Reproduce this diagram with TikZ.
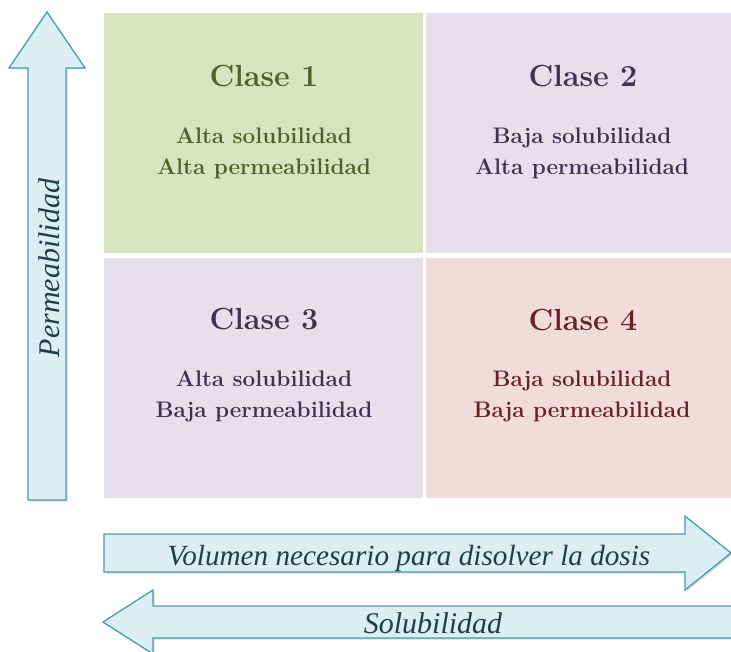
\documentclass[tikz,border=0pt]{standalone}
\usepackage{fontspec}
\newfontfamily\bandfont{Liberation Serif}
\usetikzlibrary{shadows}
\definecolor{c1fill}{HTML}{D7E4BD}
\definecolor{c2fill}{HTML}{E5E0EC}
\definecolor{c4fill}{HTML}{F2DCDB}
\definecolor{c1ink}{HTML}{4F6228}
\definecolor{c2ink}{HTML}{3F3151}
\definecolor{c4ink}{HTML}{632423}
\definecolor{bandfill}{HTML}{DAEEF3}
\definecolor{bandline}{HTML}{4A9AB0}
\definecolor{bandink}{HTML}{1F3F4C}
\begin{document}
\begin{tikzpicture}[x=1pt,y=-1pt,
	cell/.style={rectangle,inner sep=0pt,minimum height=240pt},
	classtitle/.style={font=\bfseries\fontsize{30.5}{34}\selectfont},
	classtext/.style={font=\bfseries\fontsize{22.5}{31}\selectfont,align=center},
	band/.style={draw=bandline,fill=bandfill,line width=1.3pt,line join=miter,
		drop shadow={shadow xshift=1.5pt,shadow yshift=-1.5pt,opacity=0.3}},
	bandtext/.style={font=\bandfont\itshape\fontsize{30}{34}\selectfont,text=bandink,anchor=base}]
	\useasboundingbox (0,0) rectangle (731,652);
	\node[cell,minimum width=319pt,fill=c1fill] (c1) at (263.5,133) {};
	\node[cell,minimum width=305pt,fill=c2fill] (c2) at (578.5,133) {};
	\node[cell,minimum width=319pt,fill=c2fill] (c3) at (263.5,378) {};
	\node[cell,minimum width=305pt,fill=c4fill] (c4) at (578.5,378) {};
	\node[classtitle,text=c1ink] (t1) at (264,76) {Clase 1};
	\node[classtext,text=c1ink] (p1) at (264,153) {Alta solubilidad\\Alta permeabilidad};
	\node[classtitle,text=c2ink] (t2) at (583,76) {Clase 2};
	\node[classtext,text=c2ink] (p2) at (582,153) {Baja solubilidad\\Alta permeabilidad};
	\node[classtitle,text=c2ink] (t3) at (264,319) {Clase 3};
	\node[classtext,text=c2ink] (p3) at (264,396) {Alta solubilidad\\Baja permeabilidad};
	\node[classtitle,text=c4ink] (t4) at (583,320) {Clase 4};
	\node[classtext,text=c4ink] (p4) at (582,396) {Baja solubilidad\\Baja permeabilidad};
	% ejes
	\draw[band] (28,500) -- (28,68) -- (9,68) -- (47,12) -- (85,68) -- (66,68) -- (66,500) -- cycle;
	\node[bandtext,rotate=90] (perm) at (59,268) {Permeabilidad};
	\draw[band] (104,534) -- (685,534) -- (685,516) -- (731,553) -- (685,590) -- (685,572) -- (104,572) -- cycle;
	\node[bandtext,font=\bandfont\itshape\fontsize{29.2}{34}\selectfont] (vol) at (409,565) {Volumen necesario para disolver la dosis};
	\draw[band] (745,606) -- (153,606) -- (153,590) -- (103,622) -- (153,654) -- (153,638) -- (745,638) -- cycle;
	\node[bandtext] (sol) at (433,633) {Solubilidad};
\end{tikzpicture}
\end{document}
